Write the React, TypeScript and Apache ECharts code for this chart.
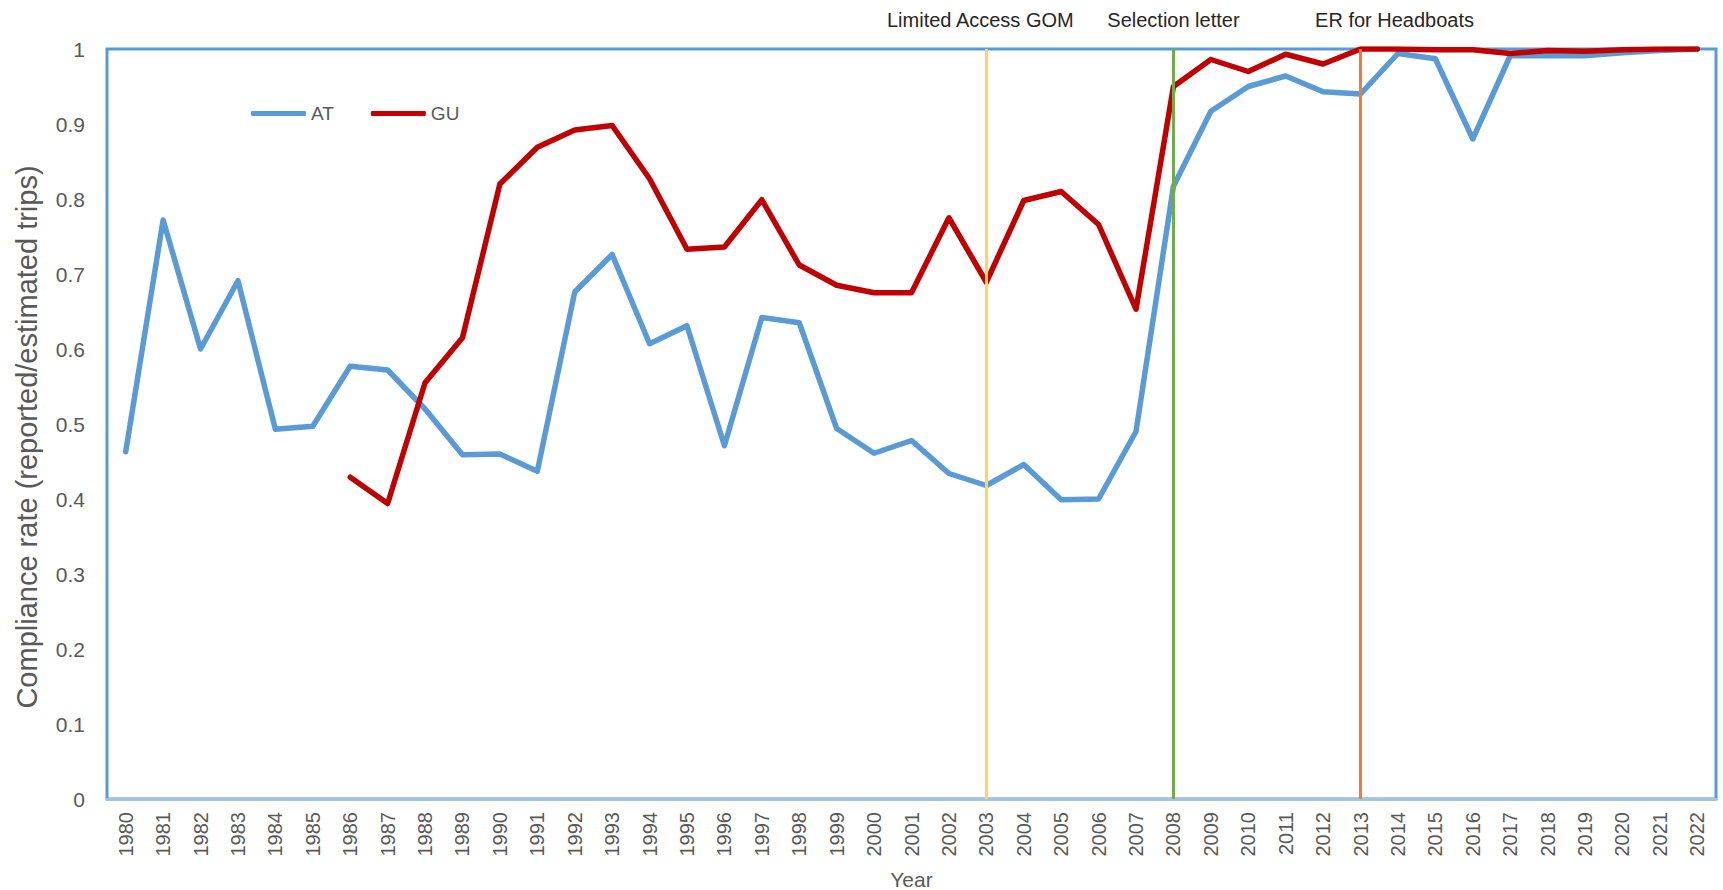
import React, { useEffect, useRef } from "react";
import * as echarts from "echarts";

const years = [
  "1980","1981","1982","1983","1984","1985","1986","1987","1988","1989",
  "1990","1991","1992","1993","1994","1995","1996","1997","1998","1999",
  "2000","2001","2002","2003","2004","2005","2006","2007","2008","2009",
  "2010","2011","2012","2013","2014","2015","2016","2017","2018","2019",
  "2020","2021","2022",
];

const atValues = [
  0.463, 0.772, 0.6, 0.691, 0.493, 0.497, 0.577, 0.572, 0.52, 0.459,
  0.46, 0.437, 0.676, 0.726, 0.607, 0.631, 0.471, 0.642, 0.635, 0.494,
  0.461, 0.478, 0.434, 0.418, 0.446, 0.399, 0.4, 0.49, 0.817, 0.917,
  0.95, 0.964, 0.943, 0.94, 0.994, 0.987, 0.88, 0.991, 0.991, 0.991,
  0.995, 0.998, 1.0,
];

const guValues = [
  null, null, null, null, null, null, 0.429, 0.394, 0.555, 0.615,
  0.82, 0.869, 0.892, 0.898, 0.827, 0.733, 0.736, 0.799, 0.712, 0.685,
  0.675, 0.675, 0.775, 0.689, 0.798, 0.81, 0.766, 0.653, 0.95, 0.986,
  0.97, 0.993, 0.98, 1.0, 1.0, 0.999, 0.999, 0.994, 0.998, 0.997,
  0.999, 1.0, 1.0,
];

const eventYears = ["2003", "2008", "2013"];
const eventLabels = ["Limited Access GOM", "Selection letter", "ER for Headboats"];
const eventColors = ["#FFD65C", "#70AD47", "#ED7D31"];
const eventLabelShift = [-6, 0, 34];

const FONT = "'Liberation Sans', Arial, sans-serif";

export default function App() {
  const ref = useRef<HTMLDivElement>(null);

  useEffect(() => {
    if (!ref.current) return;
    const chart = echarts.init(ref.current, null, { renderer: "svg" });
    chart.setOption({
      animation: false,
      backgroundColor: "#ffffff",
      textStyle: { fontFamily: FONT },
      grid: {
        left: 107,
        right: 7,
        top: 49,
        bottom: 91,
        show: true,
        borderColor: "#5B9BD5",
        borderWidth: 3,
        backgroundColor: "transparent",
        containLabel: false,
        outerBoundsMode: "none",
      },
      legend: {
        data: ["AT", "GU"],
        left: 246,
        top: 99,
        itemWidth: 55,
        itemHeight: 5,
        itemGap: 37,
        icon: "roundRect",
        textStyle: { fontSize: 19, color: "#595959", fontFamily: FONT },
      },
      xAxis: {
        type: "category",
        data: years,
        boundaryGap: true,
        name: "Year",
        nameLocation: "middle",
        nameGap: 70,
        nameTextStyle: { fontSize: 21, color: "#595959", fontFamily: FONT },
        axisLine: { show: true, lineStyle: { color: "#A4C2E6", width: 3 } },
        axisTick: { show: false },
        axisLabel: {
          rotate: 90,
          fontSize: 20,
          color: "#595959",
          margin: 13,
          interval: 0,
          fontFamily: FONT,
        },
        splitLine: { show: false },
      },
      yAxis: {
        type: "value",
        min: 0,
        max: 1,
        interval: 0.1,
        name: "Compliance rate (reported/estimated trips)",
        nameLocation: "middle",
        nameGap: 66,
        nameTextStyle: {
          fontSize: 29,
          color: "#595959",
          fontFamily: FONT,
          padding: [0, 26, 0, 0],
        },
        axisLine: { show: false },
        axisTick: { show: false },
        splitLine: { show: false },
        axisLabel: { fontSize: 21, color: "#595959", margin: 22, fontFamily: FONT },
      },
      series: [
        {
          name: "AT",
          type: "line",
          data: atValues,
          showSymbol: false,
          symbol: "none",
          color: "#5B9BD5",
          lineStyle: { width: 5.5, color: "#5B9BD5", cap: "round", join: "round" },
          z: 2,
        },
        {
          name: "GU",
          type: "line",
          data: guValues,
          showSymbol: false,
          symbol: "none",
          connectNulls: false,
          color: "#C00000",
          lineStyle: { width: 5.5, color: "#C00000", cap: "round", join: "round" },
          z: 3,
        },
        {
          name: "events",
          type: "line",
          data: [],
          silent: true,
          z: 4,
          markLine: {
            silent: true,
            symbol: ["none", "none"],
            animation: false,
            data: eventYears.map((y, i) => ({
              xAxis: y,
              lineStyle: { color: eventColors[i], width: 3, type: "solid" },
              label: {
                show: true,
                position: "end",
                formatter: eventLabels[i],
                color: "#262626",
                fontSize: 20,
                fontFamily: FONT,
                distance: 19,
                offset: [eventLabelShift[i], 0],
              },
            })),
          },
        },
      ],
    });
    return () => chart.dispose();
  }, []);

  return (
    <div
      ref={ref}
      style={{ position: "absolute", left: 0, top: 0, width: 1723, height: 890 }}
    />
  );
}
